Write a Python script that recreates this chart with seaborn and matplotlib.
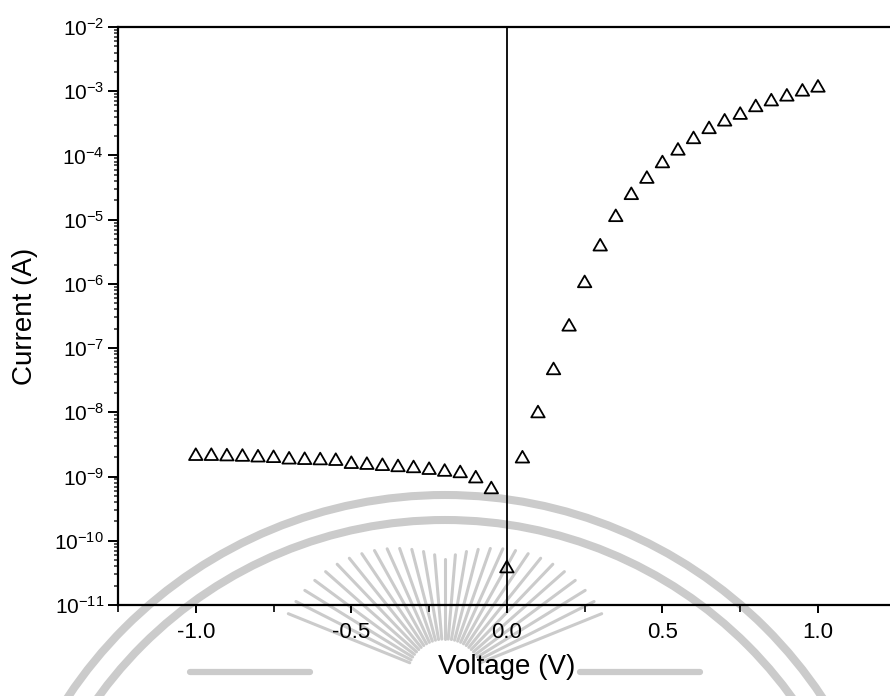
import numpy as np
import pandas as pd
import matplotlib
matplotlib.use("Agg")
import matplotlib.pyplot as plt
from matplotlib.patches import Arc
from matplotlib.ticker import LogLocator, LogFormatterSciNotation, MultipleLocator, NullFormatter
import seaborn as sns

# I-V sweep of the diode (forward and reverse bias)
voltage = [-1.00, -0.95, -0.90, -0.85, -0.80, -0.75, -0.70, -0.65, -0.60, -0.55,
           -0.50, -0.45, -0.40, -0.35, -0.30, -0.25, -0.20, -0.15, -0.10, -0.05,
           0.00,
           0.05, 0.10, 0.15, 0.20, 0.25, 0.30, 0.35, 0.40, 0.45, 0.50,
           0.55, 0.60, 0.65, 0.70, 0.75, 0.80, 0.85, 0.90, 0.95, 1.00]
current = [2.08e-9, 2.08e-9, 2.05e-9, 2.02e-9, 1.97e-9, 1.93e-9, 1.83e-9, 1.80e-9, 1.78e-9, 1.74e-9,
           1.56e-9, 1.51e-9, 1.45e-9, 1.39e-9, 1.34e-9, 1.26e-9, 1.18e-9, 1.12e-9, 9.3e-10, 6.3e-10,
           3.7e-11,
           1.9e-9, 9.6e-9, 4.5e-8, 2.15e-7, 1.02e-6, 3.8e-6, 1.09e-5, 2.4e-5, 4.3e-5, 7.5e-5,
           1.18e-4, 1.78e-4, 2.55e-4, 3.35e-4, 4.26e-4, 5.6e-4, 6.9e-4, 8.2e-4, 9.8e-4, 1.13e-3]

x_major = [-1.0, -0.5, 0.0, 0.5, 1.0]
x_labels = ["-1.0", "-0.5", "0.0", "0.5", "1.0"]

df = pd.DataFrame({"Voltage (V)": voltage, "Current (A)": current})

sns.set_theme(style="ticks")
plt.rcParams["font.family"] = ["Liberation Sans", "DejaVu Sans"]
plt.rcParams["mathtext.fontset"] = "custom"
plt.rcParams["mathtext.rm"] = "Liberation Sans"
plt.rcParams["mathtext.it"] = "Liberation Sans:italic"
plt.rcParams["mathtext.bf"] = "Liberation Sans:bold"

W, H = 890, 696
fig = plt.figure(figsize=(W / 100, H / 100), dpi=100)
fig.patch.set_facecolor("white")

# faint university emblem behind the plot (pixel coordinates)
bg = fig.add_axes([0, 0, 1, 1], zorder=0)
bg.set_xlim(0, W)
bg.set_ylim(H, 0)
bg.axis("off")
wm = "#cbcbcb"
ex, ey = 445, 948
for r in (453, 428):
    bg.add_patch(Arc((ex, ey), 2 * r, 2 * r, theta1=180, theta2=360,
                     color=wm, lw=5.8))
cx, cy = 445, 677
for ang in np.linspace(22, 158, 29):
    t = np.deg2rad(ang)
    r0 = 38
    r1 = 118 + 55 * abs(np.cos(t))
    bg.plot([cx + r0 * np.cos(t), cx + r1 * np.cos(t)],
            [cy - r0 * np.sin(t), cy - r1 * np.sin(t)], color=wm, lw=2.2,
            solid_capstyle="round")
for x0, x1 in ((190, 310), (580, 700)):
    bg.plot([x0, x1], [672, 672], color=wm, lw=4.5, solid_capstyle="round")

# main axes
left, right, bottom, top = 118, 895.75, 605, 27
ax = fig.add_axes([left / W, (H - bottom) / H, (right - left) / W, (bottom - top) / H], zorder=1)
ax.patch.set_alpha(0)

ax.axvline(0, color="black", lw=1.3, zorder=1)
sns.scatterplot(data=df, x="Voltage (V)", y="Current (A)", ax=ax,
                marker=(3, 0, 0), s=125, facecolor="none", edgecolor="black",
                linewidth=1.3, zorder=3)

ax.set_yscale("log")
ax.set_ylim(1e-11, 1e-2)
ax.set_xlim(-1.25, 1.25)

ax.set_xticks(x_major)
ax.set_xticklabels(x_labels)
ax.xaxis.set_minor_locator(MultipleLocator(0.25))
ax.yaxis.set_major_locator(LogLocator(base=10, numticks=20))
ax.yaxis.set_major_formatter(LogFormatterSciNotation())
ax.yaxis.set_minor_locator(LogLocator(base=10, subs=np.arange(2, 10), numticks=20))
ax.yaxis.set_minor_formatter(NullFormatter())

for s in ax.spines.values():
    s.set_linewidth(1.6)
    s.set_color("black")

ax.tick_params(axis="x", which="major", direction="out", length=6, width=1.4,
               labelsize=16, pad=6, colors="black")
ax.tick_params(axis="x", which="minor", direction="out", length=5, width=1.4)
ax.tick_params(axis="y", which="major", direction="out", length=7, width=1.4,
               labelsize=15, pad=3, colors="black")
ax.tick_params(axis="y", which="minor", direction="out", length=3, width=1.1)

ax.set_xlabel("Voltage (V)", fontsize=20, labelpad=8, color="black")
ax.set_ylabel("Current (A)", fontsize=20, labelpad=12, color="black")

fig.savefig("out.png", dpi=100, facecolor="white")
